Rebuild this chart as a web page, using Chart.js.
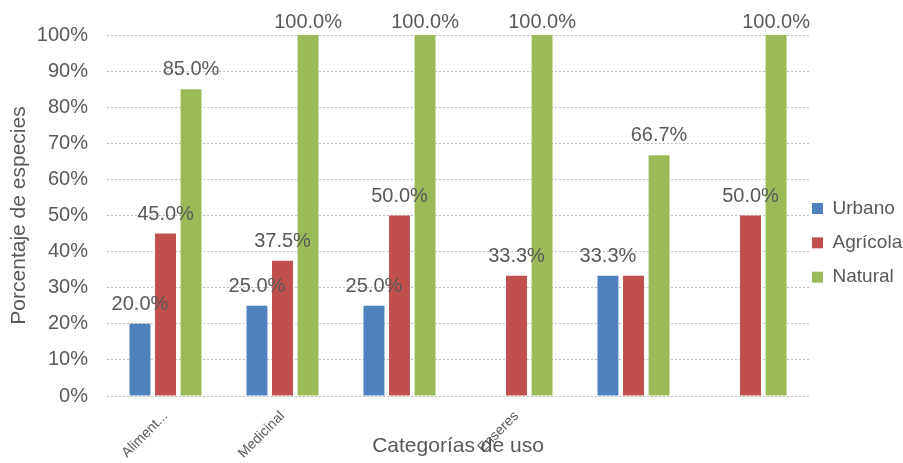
<!DOCTYPE html>
<html>
<head>
<meta charset="utf-8">
<script src="https://cdn.jsdelivr.net/npm/chart.js@4/dist/chart.umd.min.js"></script>
<style>
  html, body { margin: 0; padding: 0; background: #ffffff; }
  canvas { display: block; }
</style>
</head>
<body>
<canvas id="chart" width="903" height="463"></canvas>
<script>
// ---- Data ----
const categories = ['Aliment...', 'Medicinal', '', 'Enseres', '', ''];
const seriesNames = ['Urbano', 'Agrícola', 'Natural'];
const urbano   = [20.0, 25.0, 25.0, null, 33.3, null];
const agricola = [45.0, 37.5, 50.0, 33.3, 33.3, 50.0];
const natural  = [85.0, 100.0, 100.0, 100.0, 66.7, 100.0];
// which value labels are shown in the reference (one label is absent there)
const urbanoLabelShown   = [true, true, true, false, true, false];
const agricolaLabelShown = [true, true, true, true, false, true];
const naturalLabelShown  = [true, true, true, true, true, true];
const yAxisTitle = 'Porcentaje de especies';
const xAxisTitle = 'Categorías de uso';

const seriesColors = ['#4F81BD', '#C0504D', '#9BBB59'];
const textColor = '#595959';
const fontFamily = "'Liberation Sans', Arial, sans-serif";

Chart.defaults.font.family = fontFamily;
Chart.defaults.color = textColor;

const seriesData = [urbano, agricola, natural];
const labelShown = [urbanoLabelShown, agricolaLabelShown, naturalLabelShown];

const valueLabels = {
  id: 'valueLabels',
  afterDatasetsDraw(chart) {
    const { ctx, chartArea } = chart;
    ctx.save();
    ctx.font = '20px ' + fontFamily;
    ctx.fillStyle = textColor;
    ctx.textAlign = 'center';
    ctx.textBaseline = 'alphabetic';
    chart.data.datasets.forEach((ds, di) => {
      const meta = chart.getDatasetMeta(di);
      meta.data.forEach((bar, i) => {
        const v = ds.data[i];
        if (v === null || v === undefined || !labelShown[di][i]) return;
        const y = Math.max(bar.y - 14, chartArea.top - 7);
        ctx.fillText(v.toFixed(1) + '%', bar.x, y);
      });
    });
    ctx.restore();
  }
};

new Chart(document.getElementById('chart'), {
  type: 'bar',
  data: {
    labels: categories,
    datasets: seriesNames.map((name, i) => ({
      label: name,
      data: seriesData[i],
      backgroundColor: seriesColors[i],
      borderWidth: 0,
      categoryPercentage: 0.655,
      barPercentage: 0.82
    }))
  },
  options: {
    responsive: false,
    animation: false,
    devicePixelRatio: 1,
    layout: { padding: { top: 35, right: 0, bottom: 0, left: 0 } },
    plugins: {
      tooltip: { enabled: false },
      legend: {
        position: 'right',
        align: 'center',
        maxWidth: 94,
        labels: {
          boxWidth: 11,
          boxHeight: 11,
          padding: 3,
          color: textColor,
          font: { size: 19, lineHeight: 1.65 },
          generateLabels(chart) {
            return Chart.defaults.plugins.legend.labels.generateLabels(chart)
              .map(l => Object.assign({}, l, { text: [l.text], lineWidth: 0 }));
          }
        }
      }
    },
    scales: {
      x: {
        grid: { display: false },
        border: { display: false },
        ticks: {
          autoSkip: false,
          minRotation: 45,
          maxRotation: 45,
          padding: 4,
          color: textColor,
          font: { size: 14 }
        },
        title: {
          display: true,
          text: xAxisTitle,
          color: textColor,
          font: { size: 21 },
          padding: { top: 0, bottom: 4 }
        },
        afterFit(scale) { scale.height = 67; }
      },
      y: {
        min: 0,
        max: 100,
        ticks: {
          stepSize: 10,
          padding: 19,
          color: textColor,
          font: { size: 20 },
          callback: v => v + '%'
        },
        grid: { color: '#BFBFBF', drawTicks: false, lineWidth: 1 },
        border: { display: false, dash: [2, 2] },
        title: {
          display: true,
          text: yAxisTitle,
          color: textColor,
          font: { size: 21 },
          padding: { top: 7, bottom: 0 }
        },
        afterFit(scale) { scale.width = 107; }
      }
    }
  },
  plugins: [valueLabels]
});
</script>
</body>
</html>
